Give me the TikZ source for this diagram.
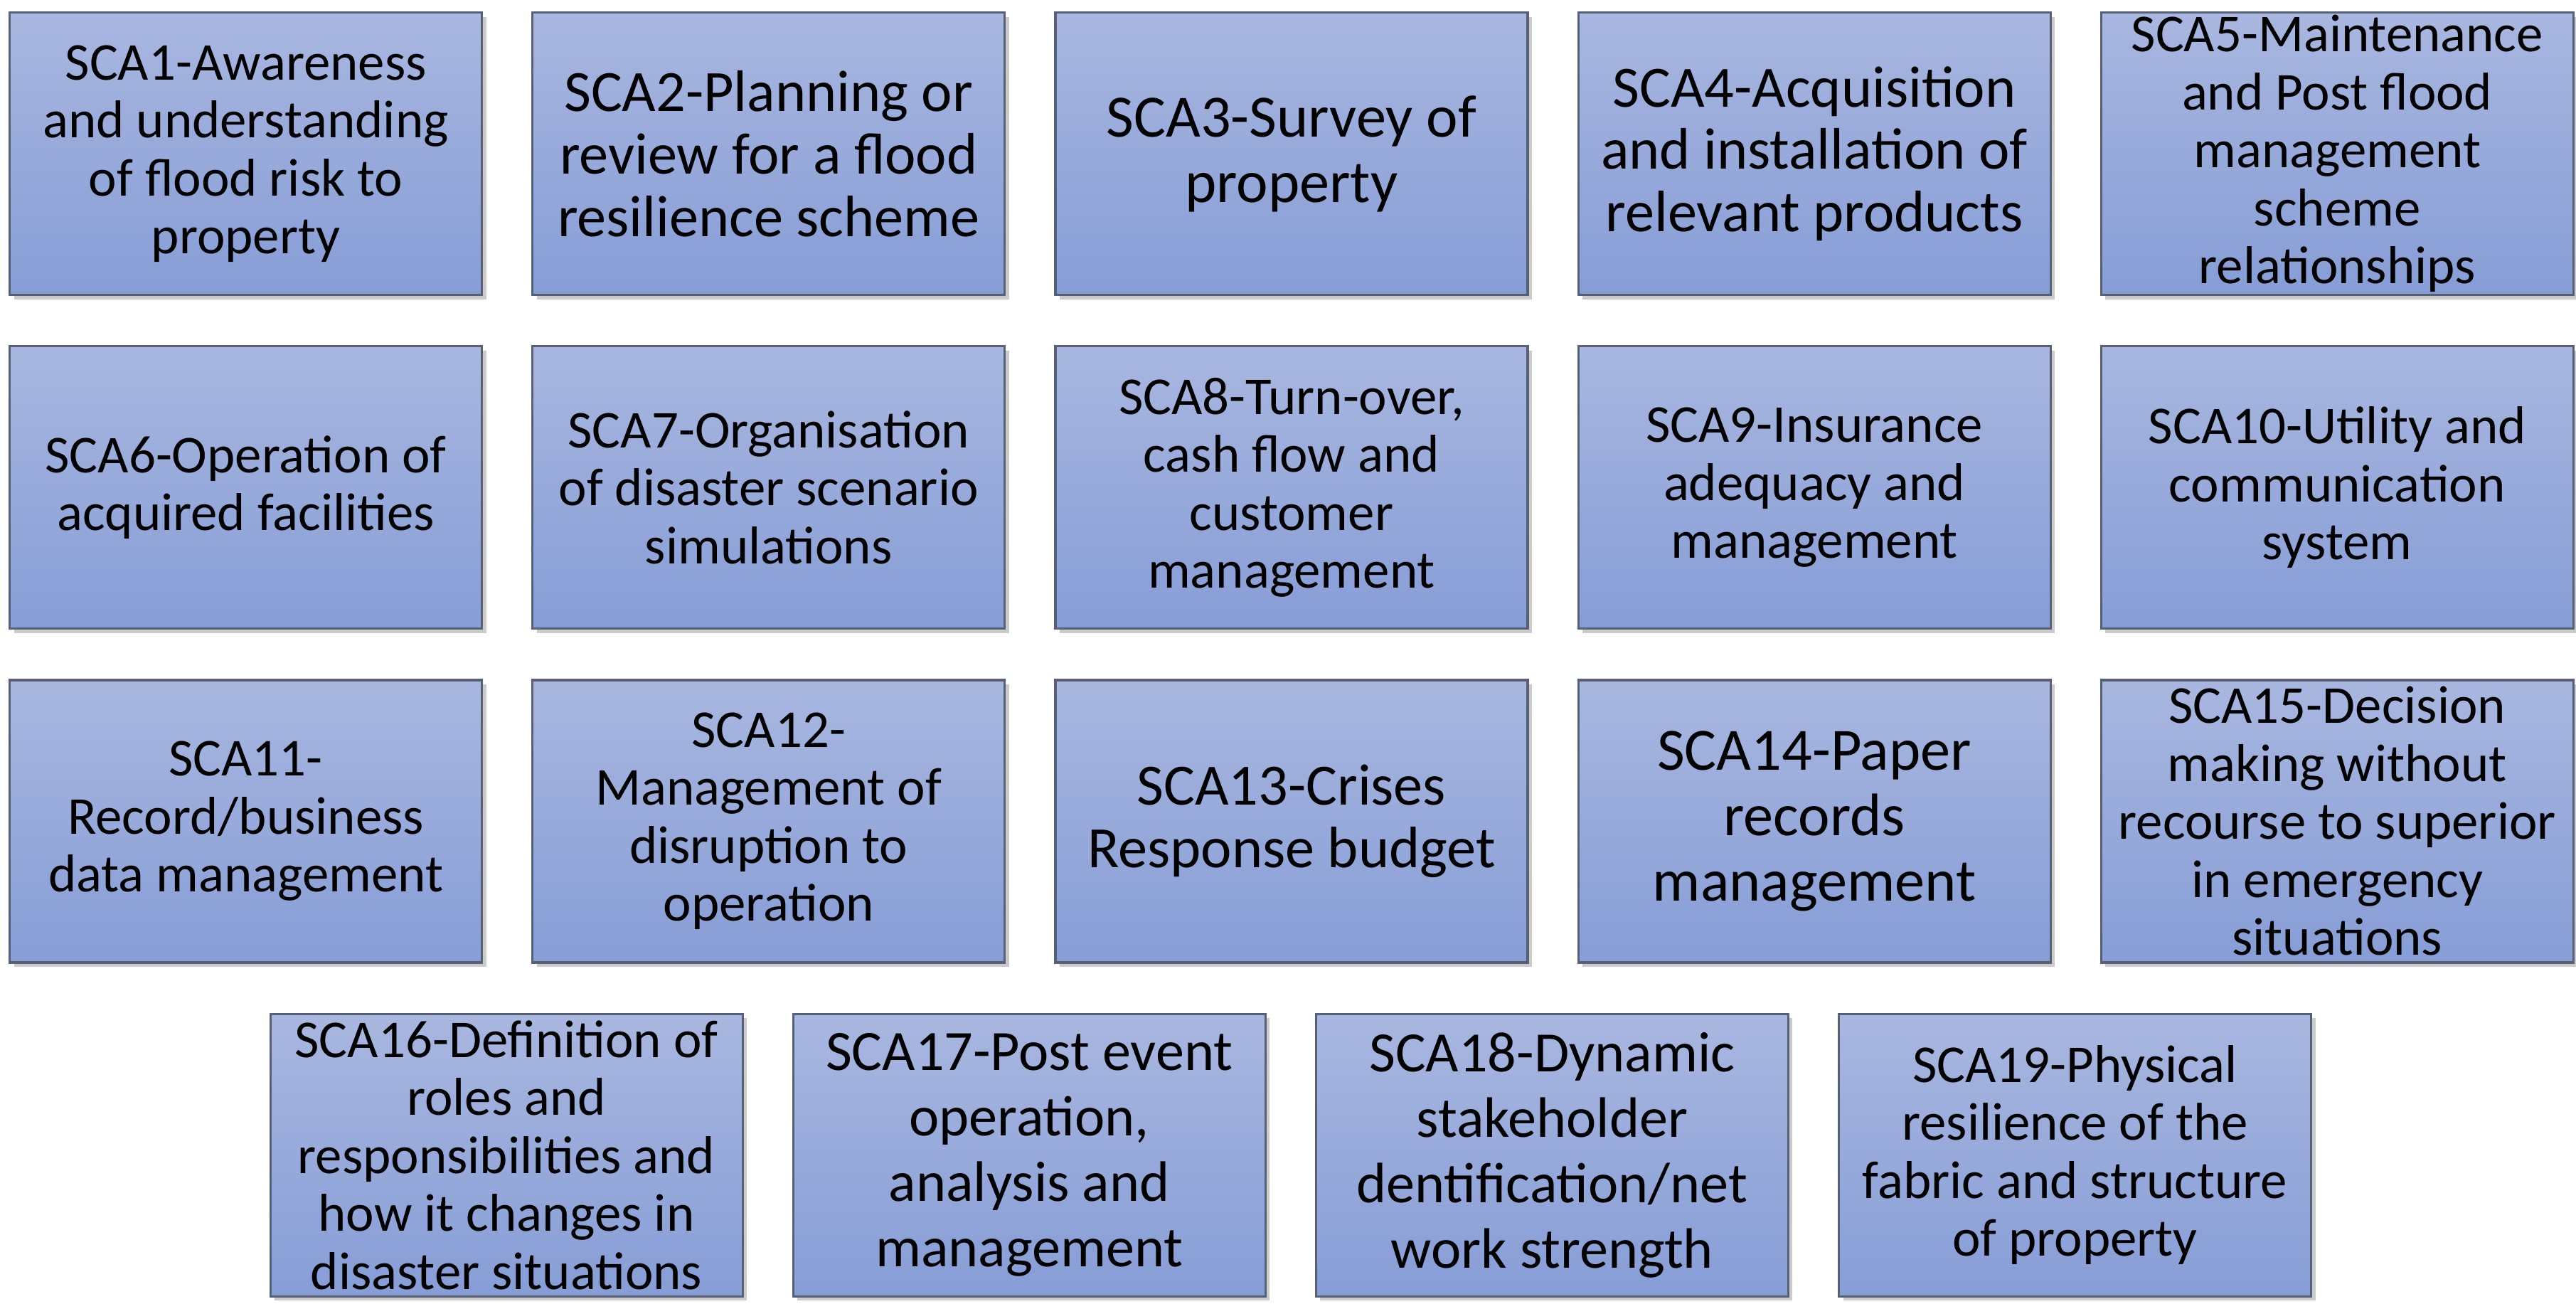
\documentclass[tikz,border=0pt]{standalone}
\usepackage{fontspec}
\setmainfont{Carlito}
\usepackage{tikz}
\usetikzlibrary{positioning, shadows}
\definecolor{scatop}{RGB}{169,183,224}
\definecolor{scabottom}{RGB}{134,157,214}
\definecolor{scaedge}{RGB}{88,96,118}
\tikzset{
    sca/.style={
        rectangle,
        draw=scaedge,
        line width=0.9pt,
        top color=scatop,
        bottom color=scabottom,
        minimum width=6.64cm,
        minimum height=3.97cm,
        inner xsep=1pt,
        inner ysep=-6mm,
        align=center,
        font=\fontsize{21.3}{23.2}\selectfont,
        drop shadow={shadow xshift=0.6mm, shadow yshift=-0.6mm, fill=black!45, opacity=0.45},
    },
    big/.style={
        font=\fontsize{23.4}{25}\selectfont,
    },
    bigger/.style={
        font=\fontsize{24}{26.2}\selectfont,
    },
    tall/.style={
        font=\fontsize{22.8}{26.2}\selectfont,
    },
}

\begin{document}
\begin{tikzpicture}[node distance=0.69cm and 0.68cm]
      \useasboundingbox (0,0) rectangle (36.22,-18.33);

      % first row
      \node [sca, anchor=north west] (sca1) at (0.12,-0.16) {SCA1-Awareness\\and understanding\\of flood risk to\\property};
      \node [sca, big] (sca2) [right=of sca1] {SCA2-Planning or\\review for a flood\\resilience scheme};
      \node [sca, bigger] (sca3) [right=of sca2] {SCA3-Survey of\\property};
      \node [sca, big] (sca4) [right=of sca3] {SCA4-Acquisition\\and installation of\\relevant products};
      \node [sca] (sca5) [right=of sca4] {SCA5-Maintenance\\and Post flood\\management\\scheme\\relationships};

      % second row
      \node [sca] (sca6) [below=of sca1] {SCA6-Operation of\\acquired facilities};
      \node [sca] (sca7) [right=of sca6] {SCA7-Organisation\\of disaster scenario\\simulations};
      \node [sca] (sca8) [right=of sca7] {SCA8-Turn-over,\\cash flow and\\customer\\management};
      \node [sca] (sca9) [right=of sca8] {SCA9-Insurance\\adequacy and\\management};
      \node [sca] (sca10) [right=of sca9] {SCA10-Utility and\\communication\\system};

      % third row
      \node [sca] (sca11) [below=of sca6] {SCA11-\\Record/business\\data management};
      \node [sca] (sca12) [right=of sca11] {SCA12-\\Management of\\disruption to\\operation};
      \node [sca, big] (sca13) [right=of sca12] {SCA13-Crises\\Response budget};
      \node [sca, bigger] (sca14) [right=of sca13] {SCA14-Paper\\records\\management};
      \node [sca] (sca15) [right=of sca14] {SCA15-Decision\\making without\\recourse to superior\\in emergency\\situations};

      % last row, shifted by half a box
      \node [sca] (sca16) [below=of sca11, xshift=3.665cm] {SCA16-Definition of\\roles and\\responsibilities and\\how it changes in\\disaster situations};
      \node [sca, tall] (sca17) [right=of sca16] {SCA17-Post event\\operation,\\analysis and\\management};
      \node [sca, tall] (sca18) [right=of sca17] {SCA18-Dynamic\\stakeholder\\dentification/net\\work strength};
      \node [sca] (sca19) [right=of sca18] {SCA19-Physical\\resilience of the\\fabric and structure\\of property};
\end{tikzpicture}
\end{document}
